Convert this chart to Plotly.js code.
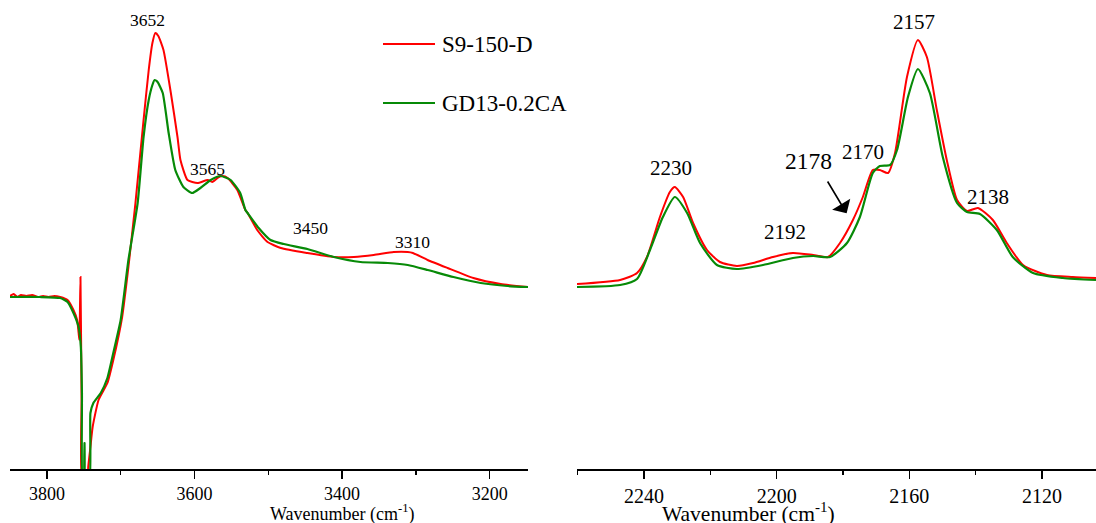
<!DOCTYPE html>
<html>
<head>
<meta charset="utf-8">
<script src="https://cdn.plot.ly/plotly-3.0.1.min.js"></script>
<style>html,body{margin:0;padding:0;background:#fff}#chart{width:1096px;height:523px}</style>
</head>
<body>
<div id="chart"></div>
<script>
// ---- Data (absorbance, a.u.) ----
// Left panel: O-H region
const ohWnRed = [3850,3845,3840,3835,3828,3820,3812,3805,3798,3790,3782,3772,3764,3759,3757,3756,3754.5,3753,3752,3745,3744,3741,3738,3730,3718,3710,3698,3689.5,3680,3669,3662,3657,3653,3649,3642,3632,3623,3619,3609.5,3596,3582,3576,3567,3562,3555,3542,3531,3528,3515,3501,3483,3447,3411,3384,3357,3330,3311,3304,3284,3257,3222,3185,3148];
const ohAbsRed = [1.73,1.75,1.72,1.74,1.73,1.74,1.72,1.73,1.72,1.73,1.72,1.69,1.59,1.49,1.36,1.29,1.92,0.69,-0.11,-0.11,0.02,0.22,0.42,0.69,0.86,1.09,1.52,2.02,2.66,3.49,3.99,4.26,4.36,4.33,4.19,3.76,3.32,3.09,2.89,2.86,2.89,2.87,2.92,2.93,2.91,2.79,2.59,2.56,2.39,2.27,2.21,2.16,2.12,2.12,2.14,2.17,2.17,2.16,2.09,2.01,1.91,1.85,1.82];
const ohWnGreen = [3850,3810,3782,3772,3764,3757,3754,3752.5,3751.5,3749.5,3749,3748.3,3742.5,3741,3737,3727,3718,3710,3700,3689.5,3677,3669,3662,3657,3654,3650,3643,3635,3626,3615,3603,3592,3578,3565,3551,3538,3531,3528,3513,3497,3479,3447,3411,3375,3338,3311,3284,3249,3212,3176,3148];
const ohAbsGreen = [1.72,1.72,1.71,1.67,1.56,1.42,1.22,0.76,-0.11,-0.11,0.26,-0.11,-0.11,0.56,0.66,0.76,0.91,1.16,1.49,2.09,2.66,3.32,3.69,3.84,3.89,3.87,3.76,3.36,2.99,2.82,2.76,2.81,2.89,2.93,2.89,2.76,2.59,2.56,2.41,2.29,2.25,2.20,2.12,2.07,2.06,2.04,1.99,1.92,1.86,1.83,1.82];

// Right panel: CO region
const coWnRed = [2260.2,2247.2,2242.1,2239.1,2235.2,2232.2,2230.7,2228.2,2225.2,2221.0,2217.1,2212.0,2207.1,2201.1,2195.1,2189.0,2184.5,2180.9,2177.0,2174.0,2171.0,2168.9,2166.4,2164.3,2160.7,2157.4,2154.7,2151.7,2148.7,2145.6,2142.6,2139.3,2134.8,2130.6,2125.7,2118.5,2110.7,2103.7];
const coAbsRed = [1.85,1.89,1.96,2.12,2.52,2.77,2.82,2.72,2.46,2.19,2.07,2.03,2.06,2.12,2.16,2.14,2.12,2.26,2.49,2.72,2.99,2.99,2.96,3.16,3.92,4.29,4.12,3.59,3.09,2.69,2.58,2.61,2.49,2.26,2.04,1.94,1.92,1.91];
const coWnGreen = [2260.2,2247.2,2242.1,2238.2,2234.3,2230.7,2227.0,2223.1,2218.0,2212.0,2204.1,2195.1,2189.0,2183.9,2178.8,2174.9,2171.0,2168.9,2165.8,2163.7,2160.4,2157.4,2153.8,2149.9,2145.6,2142.6,2138.7,2133.6,2128.8,2122.7,2113.7,2103.7];
const coAbsGreen = [1.82,1.84,1.90,2.19,2.52,2.72,2.56,2.26,2.04,2.00,2.04,2.11,2.13,2.12,2.26,2.52,2.96,3.03,3.04,3.19,3.72,4.00,3.76,3.12,2.66,2.57,2.55,2.39,2.12,1.96,1.91,1.89];

const seriesNames = ['S9-150-D', 'GD13-0.2CA'];

// Peak labels
const ohLabelText = ['3652','3565','3450','3310'];
const ohLabelWn = [3663,3583,3443,3304];
const ohLabelAbs = [4.49,3.00,2.415,2.275];
const coLabelText = ['2230','2192','2170','2157','2138'];
const coLabelWn = [2231.8,2197.6,2173.9,2158.5,2136.4];
const coLabelAbs = [3.007,2.37,3.17,4.47,2.72];
const arrowLabel = '2178';
const arrowLabelPos = [2190.3, 3.077];
const arrowTip = [2178.9, 2.557];
const arrowTail = [2184.9, 2.89];

const RED = '#ff0000', GREEN = '#078a07';
const FONT = 'Liberation Serif';

const traces = [
  {x: ohWnRed, y: ohAbsRed, xaxis:'x', yaxis:'y', mode:'lines', line:{color:RED,width:2,shape:'spline',smoothing:0.5}, showlegend:false, name:seriesNames[0]},
  {x: ohWnGreen, y: ohAbsGreen, xaxis:'x', yaxis:'y', mode:'lines', line:{color:GREEN,width:2.2,shape:'spline',smoothing:0.5}, showlegend:false, name:seriesNames[1]},
  {x: coWnRed, y: coAbsRed, xaxis:'x2', yaxis:'y2', mode:'lines', line:{color:RED,width:2,shape:'spline',smoothing:0.6}, showlegend:false, name:seriesNames[0]},
  {x: coWnGreen, y: coAbsGreen, xaxis:'x2', yaxis:'y2', mode:'lines', line:{color:GREEN,width:2.2,shape:'spline',smoothing:0.6}, showlegend:false, name:seriesNames[1]}
];

// pixel helpers for paper coords (plot area: x 10..1096, y 9..469)
const L = 10, T = 9, W = 1086, H = 460;
const px = v => (v - L) / W;
const py = v => (T + H - v) / H;

const annotations = [];
ohLabelText.forEach((t,i)=>annotations.push({x:ohLabelWn[i], y:ohLabelAbs[i], xref:'x', yref:'y', text:t, showarrow:false, font:{family:FONT,size:17.5,color:'#000'}}));
coLabelText.forEach((t,i)=>annotations.push({x:coLabelWn[i], y:coLabelAbs[i], xref:'x2', yref:'y2', text:t, showarrow:false, font:{family:FONT,size:21,color:'#000'}}));
annotations.push({x:arrowLabelPos[0], y:arrowLabelPos[1], xref:'x2', yref:'y2', text:arrowLabel, showarrow:false, font:{family:FONT,size:23.5,color:'#000'}});
annotations.push({x:arrowTip[0], y:arrowTip[1], xref:'x2', yref:'y2', ax:arrowTail[0], ay:arrowTail[1], axref:'x2', ayref:'y2', text:'', showarrow:true, arrowhead:1, arrowsize:2.2, arrowwidth:1.6, arrowcolor:'#000'});
// axis titles
annotations.push({x:px(268), y:py(512.5), xref:'paper', yref:'paper', yanchor:'middle', text:'Wavenumber (cm<sup>-1</sup>)', showarrow:false, font:{family:FONT,size:18,color:'#000'}});
annotations.push({x:px(837), y:py(512), xref:'paper', yref:'paper', yanchor:'middle', text:'Wavenumber (cm<sup>-1</sup>)', showarrow:false, font:{family:FONT,size:21.5,color:'#000'}});
// legend texts
annotations.push({x:px(440), y:py(44.5), xref:'paper', yref:'paper', xanchor:'left', yanchor:'middle', text:seriesNames[0], showarrow:false, font:{family:FONT,size:23,color:'#000'}});
annotations.push({x:px(440), y:py(103.5), xref:'paper', yref:'paper', xanchor:'left', yanchor:'middle', text:seriesNames[1], showarrow:false, font:{family:FONT,size:23,color:'#000'}});

const shapes = [
  {type:'line', xref:'paper', yref:'paper', x0:px(383), x1:px(435), y0:py(44), y1:py(44), line:{color:RED,width:2}},
  {type:'line', xref:'paper', yref:'paper', x0:px(383), x1:px(435), y0:py(103), y1:py(103), line:{color:GREEN,width:2}}
];

const xCommon = {showgrid:false, zeroline:false, showline:true, linecolor:'#000', linewidth:1.5, ticks:'outside', ticklen:8, tickwidth:1.5, tickcolor:'#000', color:'#000'};

const layout = {
  width:1096, height:523,
  margin:{l:L, r:0, t:T, b:523-T-H},
  paper_bgcolor:'#fff', plot_bgcolor:'#fff',
  font:{family:FONT, color:'#000'},
  showlegend:false,
  xaxis: Object.assign({}, xCommon, {domain:[0, px(528)], range:[3850,3148], tick0:0, dtick:200,
    tickfont:{family:FONT,size:18,color:'#000'},
    minor:{dtick:100, tick0:0, ticks:'outside', ticklen:4, tickwidth:1.5, tickcolor:'#000'}}),
  xaxis2: Object.assign({}, xCommon, {domain:[px(577), 1], range:[2260.2,2103.7], tick0:0, dtick:40,
    tickfont:{family:FONT,size:20,color:'#000'},
    minor:{dtick:20, tick0:0, ticks:'outside', ticklen:4, tickwidth:1.5, tickcolor:'#000'}}),
  yaxis: {domain:[0,1], range:[0,4.6], visible:false, anchor:'x'},
  yaxis2: {domain:[0,1], range:[0,4.6], visible:false, anchor:'x2'},
  annotations: annotations,
  shapes: shapes
};
layout.xaxis.anchor = 'y';
layout.xaxis2.anchor = 'y2';

Plotly.newPlot('chart', traces, layout, {staticPlot:true, displayModeBar:false});
</script>
</body>
</html>
